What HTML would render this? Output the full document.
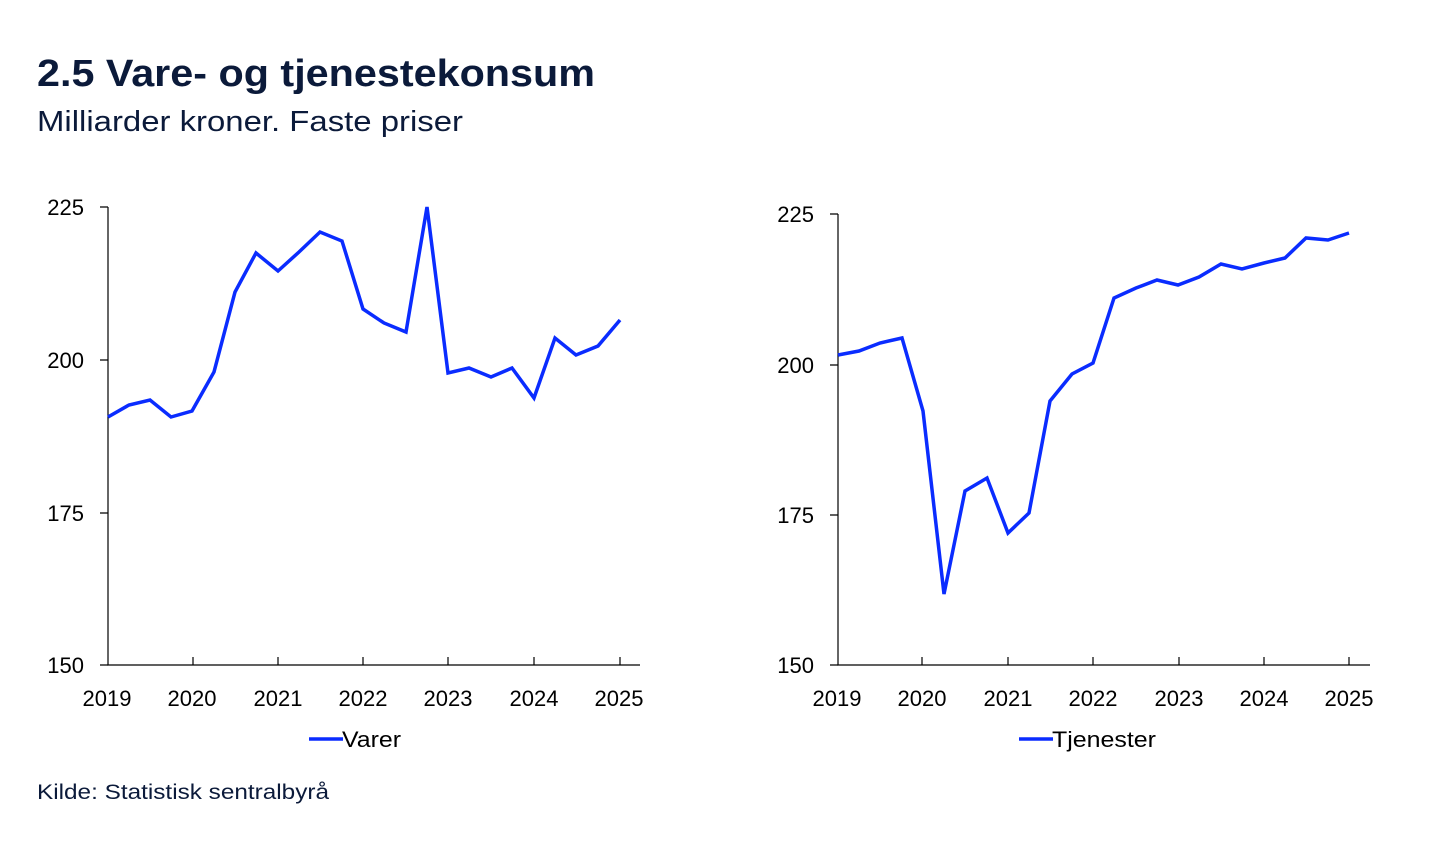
<!DOCTYPE html>
<html><head><meta charset="utf-8"><style>
body{margin:0;background:#fff;width:1445px;height:842px;overflow:hidden;font-family:"Liberation Sans",sans-serif;color:#0b1a3a}
</style></head><body>
<svg width="1445" height="842" xmlns="http://www.w3.org/2000/svg" font-family="Liberation Sans, sans-serif">
<text x="37" y="86" font-size="38" font-weight="bold" fill="#0b1a3a" textLength="558" lengthAdjust="spacingAndGlyphs">2.5 Vare- og tjenestekonsum</text>
<text x="37" y="131" font-size="29" fill="#0b1a3a" textLength="426" lengthAdjust="spacingAndGlyphs">Milliarder kroner. Faste priser</text>
<g stroke="#000" stroke-width="1.2" fill="none">
<path d="M108,207V665H640"/>
<path d="M100,207H108M100,360H108M100,513H108M100,665H108"/>
<path d="M193,665V657M278,665V657M363,665V657M448,665V657M534,665V657M620,665V657"/>
<path d="M838,214V665H1370"/>
<path d="M830,214H838M830,365H838M830,515H838M830,665H838"/>
<path d="M922,665V657M1008,665V657M1093,665V657M1179,665V657M1264,665V657M1349,665V657"/>
</g>
<g font-size="22" fill="#000" text-anchor="end">
<text x="84" y="215">225</text><text x="84" y="368">200</text><text x="84" y="521">175</text><text x="84" y="673">150</text>
<text x="814" y="222">225</text><text x="814" y="373">200</text><text x="814" y="523">175</text><text x="814" y="673">150</text>
</g>
<g font-size="22" fill="#000" text-anchor="middle">
<text x="107" y="706">2019</text><text x="192" y="706">2020</text><text x="278" y="706">2021</text><text x="363" y="706">2022</text><text x="448" y="706">2023</text><text x="534" y="706">2024</text><text x="619" y="706">2025</text>
<text x="837" y="706">2019</text><text x="922" y="706">2020</text><text x="1008" y="706">2021</text><text x="1093" y="706">2022</text><text x="1179" y="706">2023</text><text x="1264" y="706">2024</text><text x="1349" y="706">2025</text>
</g>
<g stroke="#0a2cff" stroke-width="3.5" fill="none" stroke-linejoin="miter">
<polyline points="108,417 129,405 150,400 171,417 192,411 214,372 235,292 256,253 278,271 299,252 320,232 342,241 363,309 384,323 406,332 427,207 448,373 469,368 491,377 512,368 534,398 555,338 576,355 598,346 620,320"/>
<polyline points="838,355 859,351 880,343 902,338 923,411 944,594 965,491 987,478 1008,533 1029,513 1050,401 1072,374 1093,363 1114,298 1136,288 1157,280 1178,285 1199,277 1221,264 1242,269 1264,263 1285,258 1306,238 1328,240 1349,233"/>
<path d="M309,739H343M1019,739H1053"/>
</g>
<text x="342" y="747" font-size="22" fill="#000" textLength="59" lengthAdjust="spacingAndGlyphs">Varer</text>
<text x="1052" y="747" font-size="22" fill="#000" textLength="104" lengthAdjust="spacingAndGlyphs">Tjenester</text>
<text x="37" y="799" font-size="21" fill="#0b1a3a" textLength="292" lengthAdjust="spacingAndGlyphs">Kilde: Statistisk sentralbyrå</text>
</svg>
</body></html>
